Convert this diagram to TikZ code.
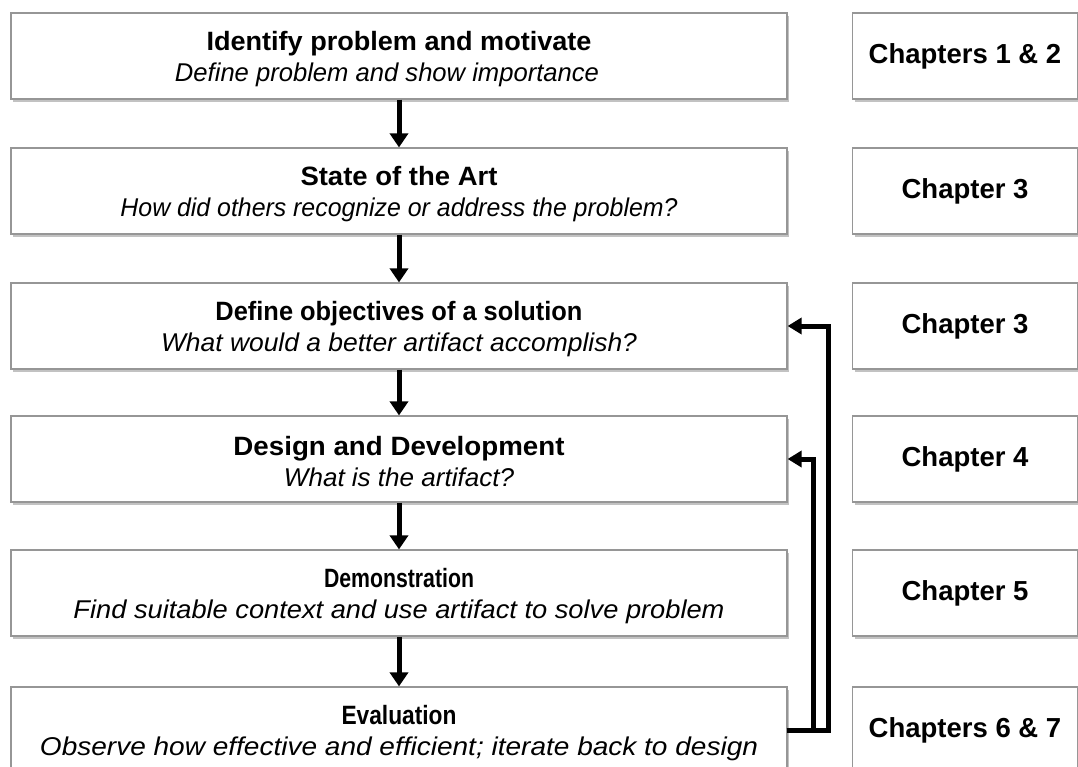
\documentclass[tikz,border=0pt]{standalone}
\usepackage{fontspec}
\usepackage{graphicx}
\setmainfont{Liberation Sans}
\usetikzlibrary{arrows.meta,shadows,calc}
\definecolor{boxline}{RGB}{150,150,150}
\definecolor{shade}{RGB}{120,120,120}
% heading and sub-line, each set to a given width
\newcommand{\ttl}[2]{\resizebox{#1pt}{\height}{\fontsize{26.5}{31}\selectfont\bfseries #2}}
\newcommand{\sub}[2]{\resizebox{#1pt}{\height}{\fontsize{25.7}{31}\selectfont\itshape #2}}
\tikzset{
  stage/.style={draw=boxline, line width=1.2pt, fill=white, minimum width=776pt,
    minimum height=86pt, inner sep=0pt,
    drop shadow={shadow xshift=2pt, shadow yshift=-3pt, opacity=0.45, fill=shade}},
  stagetext/.style={align=center, inner sep=0pt, font=\fontsize{26}{31}\selectfont},
  chapbox/.style={stage, minimum width=225pt, font=\fontsize{27.5}{31}\selectfont\bfseries},
  flow/.style={line width=5pt, -{Triangle[width=18pt,length=14pt]}},
  loop/.style={line width=5pt, -{Triangle[width=16pt,length=14pt]}}
}
\begin{document}
\begin{tikzpicture}[x=1pt,y=-1pt]
\useasboundingbox (0,0) rectangle (1078,767);
\clip (0,0) rectangle (1078,767);
% process stages
\node[stage] (s1) at (399,56) {};
\node[stage] (s2) at (399,191) {};
\node[stage] (s3) at (399,326) {};
\node[stage] (s4) at (399,459) {};
\node[stage] (s5) at (399,593) {};
\node[stage] (s6) at (399,730) {};
\node[stagetext] (t1) at ([yshift=-3pt]s1.center) {\ttl{385}{Identify problem and motivate}\\\sub{424}{Define problem and show importance}\hspace*{24pt}};
\node[stagetext] (t2) at ([yshift=-3pt]s2.center) {\ttl{197}{State of the Art}\\\sub{557}{How did others recognize or address the problem?}};
\node[stagetext] (t3) at ([yshift=-3pt]s3.center) {\ttl{367}{Define objectives of a solution}\\\sub{476}{What would a better artifact accomplish?}};
\node[stagetext] (t4) at ([yshift=-3pt]s4.center) {\ttl{331}{Design and Development}\\\sub{230}{What is the artifact?}};
\node[stagetext] (t5) at ([yshift=-3pt]s5.center) {\ttl{150}{Demonstration}\\\sub{651}{Find suitable context and use artifact to solve problem}};
\node[stagetext] (t6) at ([yshift=-3pt]s6.center) {\ttl{115}{Evaluation}\\\sub{718}{Observe how effective and efficient; iterate back to design}};
% chapter column
\node[chapbox] (c1) at (965,56) {Chapters 1 \& 2};
\node[chapbox] (c2) at (965,191) {Chapter 3};
\node[chapbox] (c3) at (965,326) {Chapter 3};
\node[chapbox] (c4) at (965,459) {Chapter 4};
\node[chapbox] (c5) at (965,593) {Chapter 5};
\node[chapbox] (c6) at (965,730) {Chapters 6 \& 7};
% forward flow
\draw[flow] (s1) -- (s2);
\draw[flow] (s2) -- (s3);
\draw[flow] (s3) -- (s4);
\draw[flow] (s4) -- (s5);
\draw[flow] (s5) -- (s6);
% iteration back from evaluation
\draw[loop, line join=miter] ($(s6.east)+(-1,0)$) -| (828,326) -- (s3.east);
\draw[loop, line join=miter] ($(s6.east)+(-1,0)$) -| (813,459) -- (s4.east);
\end{tikzpicture}
\end{document}
